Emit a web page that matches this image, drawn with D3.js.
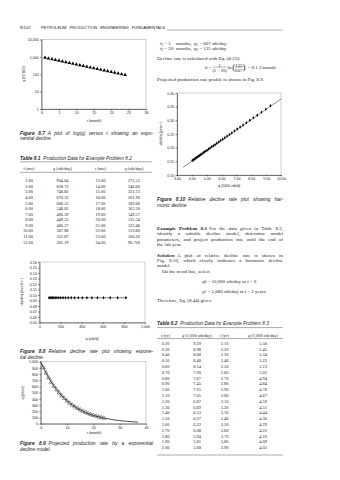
<!DOCTYPE html>
<html><head><meta charset="utf-8">
<script src="https://cdn.jsdelivr.net/npm/d3@7"></script>
<style>html,body{margin:0;padding:0;background:#fff;}svg{display:block;}</style>
</head><body>
<svg id="page" width="340" height="480"></svg>
<script>
// ---------- DATA ----------
// Table 8.1 / Example 8.2 (t in months, q in stb/day)
const t81a = [1, 2, 3, 4, 5, 6, 7, 8, 9, 10, 11, 12];
const q81a = [904.84, 818.73, 740.82, 670.32, 606.53, 548.81, 496.59, 449.33, 406.57, 367.88, 332.87, 301.19];
const t81b = [13, 14, 15, 16, 17, 18, 19, 20, 21, 22, 23, 24];
const q81b = [272.53, 246.60, 223.13, 201.90, 182.68, 165.30, 149.57, 135.34, 122.46, 110.80, 100.26, 90.720];
const q81bText = ["272.53","246.60","223.13","201.90","182.68","165.30","149.57","135.34","122.46","110.80","100.26","90.720"];

// Fig 8.7 ticks
const yTicks87 = [1, 10, 100, 1000, 10000];
const xTicks87 = [0, 5, 10, 15, 20, 25, 30];

// Fig 8.8 relative decline rate points
const q88 = [818.73, 740.82, 670.32, 606.53, 548.81, 496.59, 449.33, 406.57, 367.88, 332.87, 301.19, 272.53, 246.60, 223.13, 201.90, 182.68, 165.30, 149.57, 135.34, 122.46, 110.80, 100.26, 90.72];
const d88 = [0.095, 0.095, 0.095, 0.095, 0.095, 0.095, 0.095, 0.095, 0.095, 0.095, 0.095, 0.095, 0.095, 0.095, 0.095, 0.095, 0.095, 0.095, 0.095, 0.095, 0.095, 0.095, 0.095];
const q88Line = [80, 830];
const d88Line = [0.095, 0.095];
const yTicks88 = [0.05, 0.06, 0.07, 0.08, 0.09, 0.10, 0.11, 0.12, 0.13, 0.14, 0.15, 0.16];
const xTicks88 = [0, 200, 400, 600, 800, 1000];

// Fig 8.9 projected model curve
const t89Model = [0, 2, 4, 6, 8, 10, 12, 15, 18, 21, 24, 27, 30, 33, 37];
const q89Model = [1000, 819, 670, 549, 449, 368, 301, 223, 165, 122, 91, 67, 50, 37, 25];
const yTicks89 = [0, 100, 200, 300, 400, 500, 600, 700, 800, 900, 1000];
const xTicks89 = [0, 10, 20, 30, 40];

// Table 8.2 / Example 8.3 (t in years, q in 1,000 stb/day)
const t82a = ["0.20","0.30","0.40","0.50","0.60","0.70","0.80","0.90","1.00","1.10","1.20","1.30","1.40","1.50","1.60","1.70","1.80","1.90","2.00"];
const q82a = [9.29, 8.98, 8.68, 8.40, 8.14, 7.90, 7.67, 7.45, 7.25, 7.05, 6.87, 6.69, 6.53, 6.37, 6.22, 6.08, 5.94, 5.81, 5.68];
const t82b = ["2.10","2.20","2.30","2.40","2.50","2.60","2.70","2.80","2.90","3.00","3.10","3.20","3.30","3.40","3.50","3.60","3.70","3.80","3.90"];
const q82b = [5.56, 5.45, 5.34, 5.23, 5.13, 5.03, 4.94, 4.84, 4.76, 4.67, 4.59, 4.51, 4.44, 4.36, 4.29, 4.22, 4.16, 4.09, 4.03];

// Fig 8.10 relative decline rate (1/yr) vs q (1000 stb/d)
const q810 = [9.29, 8.98, 8.68, 8.40, 8.14, 7.90, 7.67, 7.45, 7.25, 7.05, 6.87, 6.69, 6.53, 6.37, 6.22, 6.08, 5.94, 5.81, 5.68, 5.56, 5.45, 5.34, 5.23, 5.13, 5.03, 4.94, 4.84, 4.76, 4.67, 4.59, 4.51, 4.44, 4.36, 4.29, 4.22, 4.16, 4.09, 4.03];
const d810 = [0.353, 0.341, 0.330, 0.319, 0.309, 0.300, 0.291, 0.283, 0.276, 0.268, 0.261, 0.254, 0.248, 0.242, 0.236, 0.231, 0.226, 0.221, 0.216, 0.211, 0.207, 0.203, 0.199, 0.195, 0.191, 0.188, 0.184, 0.181, 0.177, 0.174, 0.171, 0.169, 0.166, 0.163, 0.160, 0.158, 0.155, 0.153];
const q810Line = [3.4, 10.0];
const d810Line = [0.128, 0.378];
const yTicks810 = [0.10, 0.15, 0.20, 0.25, 0.30, 0.35, 0.40];
const xTicks810 = [3, 4, 5, 6, 7, 8, 9, 10];

// ---------- HELPERS ----------
const SERIF = "'Liberation Serif','DejaVu Serif',serif";
const SANS = "'Liberation Sans',Arial,sans-serif";
const INK = '#222';
const BODY = 5.0;
const svg = d3.select('#page');

function T(x, y, segs, o = {}) {
  const fs = o.size || BODY;
  const t = svg.append('text')
    .attr('x', x).attr('y', y)
    .attr('font-family', o.family || SERIF)
    .attr('font-size', fs)
    .attr('fill', o.fill || INK)
    .attr('text-anchor', o.anchor || 'start')
    .attr('dominant-baseline', 'central');
  if (o.italic) t.attr('font-style', 'italic');
  if (o.bold) t.attr('font-weight', 'bold');
  if (o.rotate) t.attr('transform', `rotate(${o.rotate},${x},${y})`);
  let shift = 0, full = '';
  (typeof segs === 'string' ? [segs] : segs).forEach(s => {
    if (typeof s === 'string') s = {t: s};
    full += s.t;
    const ts = t.append('tspan').text(s.t);
    if (s.i) ts.attr('font-style', 'italic');
    if (s.n) ts.attr('font-style', 'normal');
    if (s.b) ts.attr('font-weight', 'bold');
    if (s.dx) ts.attr('dx', s.dx);
    const want = s.sub ? fs * 0.3 : s.sup ? -fs * 0.4 : 0;
    if (want !== shift) { ts.attr('dy', want - shift); shift = want; }
    if (s.sub || s.sup) ts.attr('font-size', fs * 0.7);
  });
  if (o.width) {
    const nat = t.node().getComputedTextLength();
    const n = (full.match(/ /g) || []).length;
    if (n > 0) t.attr('word-spacing', Math.max(-0.5, (o.width - nat) / n));
  }
  return t;
}
function rule(x0, x1, y, w = 0.5, c = '#555') {
  svg.append('line').attr('x1', x0).attr('x2', x1).attr('y1', y).attr('y2', y)
    .attr('stroke', c).attr('stroke-width', w);
}
function chart(x, y, xTicks, yTicks, xFmt, yFmt) {
  const [x0, x1] = x.range();
  const [yb, yt] = y.range();
  const g = svg.append('g');
  g.append('rect').attr('x', x0).attr('y', yt).attr('width', x1 - x0).attr('height', yb - yt)
    .attr('fill', 'none').attr('stroke', '#a0a0a0').attr('stroke-width', 0.5);
  const ax = g.append('g').attr('transform', `translate(0,${yb})`)
    .call(d3.axisBottom(x).tickValues(xTicks).tickFormat(xFmt).tickSize(1.4).tickSizeOuter(0).tickPadding(1.3));
  const ay = g.append('g').attr('transform', `translate(${x0},0)`)
    .call(d3.axisLeft(y).tickValues(yTicks).tickFormat(yFmt).tickSize(1.4).tickSizeOuter(0).tickPadding(1.3));
  [ax, ay].forEach(a => {
    a.select('.domain').attr('stroke', '#000').attr('stroke-width', 0.5);
    a.selectAll('.tick line').attr('stroke', '#000').attr('stroke-width', 0.5);
    a.selectAll('text').attr('font-family', SANS).attr('font-size', 3.6).attr('fill', INK);
  });
  return g;
}
const CAP = {family: SANS, italic: true, size: 4.8};
const GAP = 3;

// ---------- HEADER ----------
T(20, 27, '8/102', {family: SANS, size: 4.2});
T(41, 27, 'PETROLEUM PRODUCTION ENGINEERING FUNDAMENTALS', {family: SANS, size: 4.1, width: 124});
rule(167, 283, 30, 0.5, '#666');

// ---------- FIG 8.7 ----------
{
  const x = d3.scaleLinear().domain([0, 30]).range([41.5, 146]);
  const y = d3.scaleLog().domain([1, 10000]).range([109, 39.5]);
  const g = chart(x, y, xTicks87, yTicks87, d3.format('d'), d3.format(','));
  const all = t81a.concat(t81b).map((t, i) => [t, q81a.concat(q81b)[i]]);
  g.selectAll('path.pt').data(all).join('path').attr('class', 'pt')
    .attr('d', d3.symbol(d3.symbolTriangle, 6))
    .attr('transform', d => `translate(${x(d[0])},${y(d[1])})`)
    .attr('fill', '#000');
  T(94, 120.8, 't (month)', {family: SANS, size: 3.6, anchor: 'middle'});
  T(24, 74, 'q (STB/D)', {family: SANS, size: 3.6, anchor: 'middle', rotate: -90});
}
T(20, 132.7, [{t: 'Figure 8.7', b: true}, {t: 'A plot of log(q) versus t showing an expo-', dx: GAP}], Object.assign({width: 133 - GAP}, CAP));
T(20, 138.4, 'nential decline.', CAP);

// ---------- TABLE 8.1 ----------
T(20, 157.7, [{t: 'Table 8.1', b: true}, {t: 'Production Data for Example Problem 8.2', dx: GAP}], CAP);
rule(20, 152, 161.8);
{
  const cx = [29, 62.5, 100.5, 134];
  const hy = 168.3, FS = 4.4;
  T(cx[0], hy, [{t: 't', i: true}, ' (mo)'], {anchor: 'middle', size: FS});
  T(cx[1], hy, [{t: 'q', i: true}, ' (stb/day)'], {anchor: 'middle', size: FS});
  T(cx[2], hy, [{t: 't', i: true}, ' (mo)'], {anchor: 'middle', size: FS});
  T(cx[3], hy, [{t: 'q', i: true}, ' (stb/day)'], {anchor: 'middle', size: FS});
  rule(20, 152, 172.3);
  t81a.forEach((t, i) => {
    const yy = 180.3 + i * 5.57;
    T(cx[0] + 4, yy, t.toFixed(2), {anchor: 'end', size: FS});
    T(cx[1], yy, q81a[i].toFixed(2), {anchor: 'middle', size: FS});
    T(cx[2] + 5, yy, t81b[i].toFixed(2), {anchor: 'end', size: FS});
    T(cx[3] + 6, yy, q81bText[i], {anchor: 'end', size: FS});
  });
}

// ---------- FIG 8.8 ----------
{
  const x = d3.scaleLinear().domain([0, 1000]).range([39.5, 145]);
  const y = d3.scaleLinear().domain([0.05, 0.16]).range([322.5, 262]);
  const g = chart(x, y, xTicks88, yTicks88, d3.format(','), d3.format('.2f'));
  g.append('path').datum(q88Line.map((q, i) => [q, d88Line[i]]))
    .attr('d', d3.line().x(d => x(d[0])).y(d => y(d[1])))
    .attr('stroke', '#000').attr('stroke-width', 0.5).attr('fill', 'none');
  g.selectAll('path.pt').data(q88.map((q, i) => [q, d88[i]])).join('path').attr('class', 'pt')
    .attr('d', d3.symbol(d3.symbolDiamond, 3.5))
    .attr('transform', d => `translate(${x(d[0])},${y(d[1])})`)
    .attr('fill', '#000');
  T(92, 339, 'q (stb/d)', {family: SANS, size: 3.6, anchor: 'middle'});
  T(22, 292, [{t: '-dq/dt/q (month'}, {t: '-1', sup: true}, {t: ')'}], {family: SANS, size: 3.6, anchor: 'middle', rotate: -90});
}
T(20, 351.3, [{t: 'Figure 8.8', b: true}, {t: 'Relative decline rate plot showing expone-', dx: GAP}], Object.assign({width: 133 - GAP}, CAP));
T(20, 356.5, 'tial decline.', CAP);

// ---------- FIG 8.9 ----------
{
  const x = d3.scaleLinear().domain([0, 40]).range([40.7, 146]);
  const y = d3.scaleLinear().domain([0, 1000]).range([423.7, 361.7]);
  const g = chart(x, y, xTicks89, yTicks89, d3.format('d'), d3.format(','));
  const all = t81a.concat(t81b).map((t, i) => [t, q81a.concat(q81b)[i]]);
  g.selectAll('path.pt').data(all).join('path').attr('class', 'pt')
    .attr('d', d3.symbol(d3.symbolTriangle, 7))
    .attr('transform', d => `translate(${x(d[0])},${y(d[1])})`)
    .attr('fill', '#fff').attr('stroke', '#000').attr('stroke-width', 0.4);
  g.append('path').datum(t89Model.map((t, i) => [t, q89Model[i]]))
    .attr('d', d3.line().curve(d3.curveMonotoneX).x(d => x(d[0])).y(d => y(d[1])))
    .attr('stroke', '#000').attr('stroke-width', 0.7).attr('fill', 'none');
  T(94, 432.8, 't (month)', {family: SANS, size: 3.6, anchor: 'middle'});
  T(23, 393, 'q (stb/d)', {family: SANS, size: 3.6, anchor: 'middle', rotate: -90});
}
T(20, 443, [{t: 'Figure 8.9', b: true}, {t: 'Projected production rate by a exponential', dx: GAP}], Object.assign({width: 133 - GAP}, CAP));
T(20, 448.5, 'decline model.', CAP);

// ---------- RIGHT COLUMN TEXT ----------
const RX = 157, RW = 126;
T(160, 43, [{t: 't', i: true}, {t: '1', sub: true}, {t: '= 5', dx: 1}, {t: 'months,', dx: 5}, {t: 'q', i: true, dx: 2}, {t: '1', sub: true}, ' = 607 stb/day']);
T(160, 48, [{t: 't', i: true}, {t: '2', sub: true}, {t: '= 20', dx: 1}, {t: 'months,', dx: 2.5}, {t: 'q', i: true, dx: 2}, {t: '2', sub: true}, ' = 135 stb/day']);
T(RX, 57.5, 'Decline rate is calculated with Eq. (8.23):');
// equation
T(205, 67.3, [{t: 'b', i: true}, ' =']);
T(219.5, 64.9, '1', {anchor: 'middle'});
rule(213, 226, 67.1, 0.35, '#222');
T(219.5, 69.7, '(5 − 20)', {anchor: 'middle', size: 4.4});
T(227.5, 67.3, 'ln');
T(232.3, 67.3, '(', {size: 9});
T(238.8, 64.9, '135', {anchor: 'middle'});
rule(235, 242.6, 67.1, 0.35, '#222');
T(238.8, 69.7, '607', {anchor: 'middle'});
T(242.6, 67.3, ')', {size: 9});
T(247.5, 67.3, '= 0.1 1/month');
T(RX, 78.8, 'Projected production rate profile is shown in Fig. 8.9.');

// ---------- FIG 8.10 ----------
{
  const x = d3.scaleLinear().domain([3, 10]).range([177, 281]);
  const y = d3.scaleLinear().domain([0.10, 0.40]).range([175, 93]);
  const g = chart(x, y, xTicks810, yTicks810, d3.format('.2f'), d3.format('.2f'));
  g.append('path').datum(q810Line.map((q, i) => [q, d810Line[i]]))
    .attr('d', d3.line().x(d => x(d[0])).y(d => y(d[1])))
    .attr('stroke', '#000').attr('stroke-width', 0.45).attr('fill', 'none');
  g.selectAll('path.pt').data(q810.map((q, i) => [q, d810[i]])).join('path').attr('class', 'pt')
    .attr('d', d3.symbol(d3.symbolDiamond, 3.5))
    .attr('transform', d => `translate(${x(d[0])},${y(d[1])})`)
    .attr('fill', '#000');
  T(229, 185.5, 'q (1000 stb/d)', {family: SANS, size: 3.6, anchor: 'middle'});
  T(161, 134, [{t: '-dq/dt/q (year'}, {t: '-1', sup: true}, {t: ')'}], {family: SANS, size: 3.6, anchor: 'middle', rotate: -90});
}
T(RX, 199, [{t: 'Figure 8.10', b: true}, {t: 'Relative decline rate plot showing har-', dx: GAP}], Object.assign({width: RW - GAP}, CAP));
T(RX, 204.6, 'monic decline.', CAP);

const L = 5.3;
T(RX, 228, [{t: 'Example Problem 8.3', b: true}, {t: 'For the data given in Table 8.2,', dx: 2.5}], {width: RW - 2.5});
T(RX, 228 + L, 'identify a suitable decline model, determine model', {width: RW});
T(RX, 228 + 2 * L, 'parameters, and project production rate until the end of', {width: RW});
T(RX, 228 + 3 * L, 'the 5th year.');
const S = 254.5;
T(RX, S, [{t: 'Solution', b: true, i: true}, {t: 'A plot of relative decline rate is shown in', dx: 2.5}], {width: RW - 2.5});
T(RX, S + L, 'Fig. 8.10, which clearly indicates a harmonic decline', {width: RW});
T(RX, S + 2 * L, 'model.');
T(RX + 5, 271, 'On the trend line, select');
T(202, 280.5, [{t: 'q', i: true}, {t: '0', sub: true}, ' = 10,000 stb/day at ', {t: 't', i: true}, ' = 0']);
T(202, 290.5, [{t: 'q', i: true}, {t: '1', sub: true}, ' = 5,680 stb/day at ', {t: 't', i: true}, ' = 2 years.']);
T(RX, 299.5, 'Therefore, Eq. (8.44) gives');

// ---------- TABLE 8.2 ----------
T(RX, 323, [{t: 'Table 8.2', b: true}, {t: 'Production Data for Example Problem 8.3', dx: GAP}], CAP);
rule(RX, 283, 327.6);
{
  const cx = [165.5, 197, 224.5, 263];
  const hy = 334.8, FS = 4.4;
  T(cx[0], hy, [{t: 't', i: true}, ' (yr)'], {anchor: 'middle', size: FS});
  T(cx[1], hy, [{t: 'q', i: true}, ' (1,000 stb/day)'], {anchor: 'middle', size: FS});
  T(cx[2], hy, [{t: 't', i: true}, ' (yr)'], {anchor: 'middle', size: FS});
  T(cx[3], hy, [{t: 'q', i: true}, ' (1,000 stb/day)'], {anchor: 'middle', size: FS});
  rule(RX, 283, 338.6);
  t82a.forEach((t, i) => {
    const yy = 342.8 + i * 5.8;
    T(cx[0], yy, t, {anchor: 'middle', size: FS});
    T(cx[1], yy, q82a[i].toFixed(2), {anchor: 'middle', size: FS});
    T(cx[2], yy, t82b[i], {anchor: 'middle', size: FS});
    T(cx[3], yy, q82b[i].toFixed(2), {anchor: 'middle', size: FS});
  });
  rule(RX, 283, 455);
}
</script>
</body></html>
